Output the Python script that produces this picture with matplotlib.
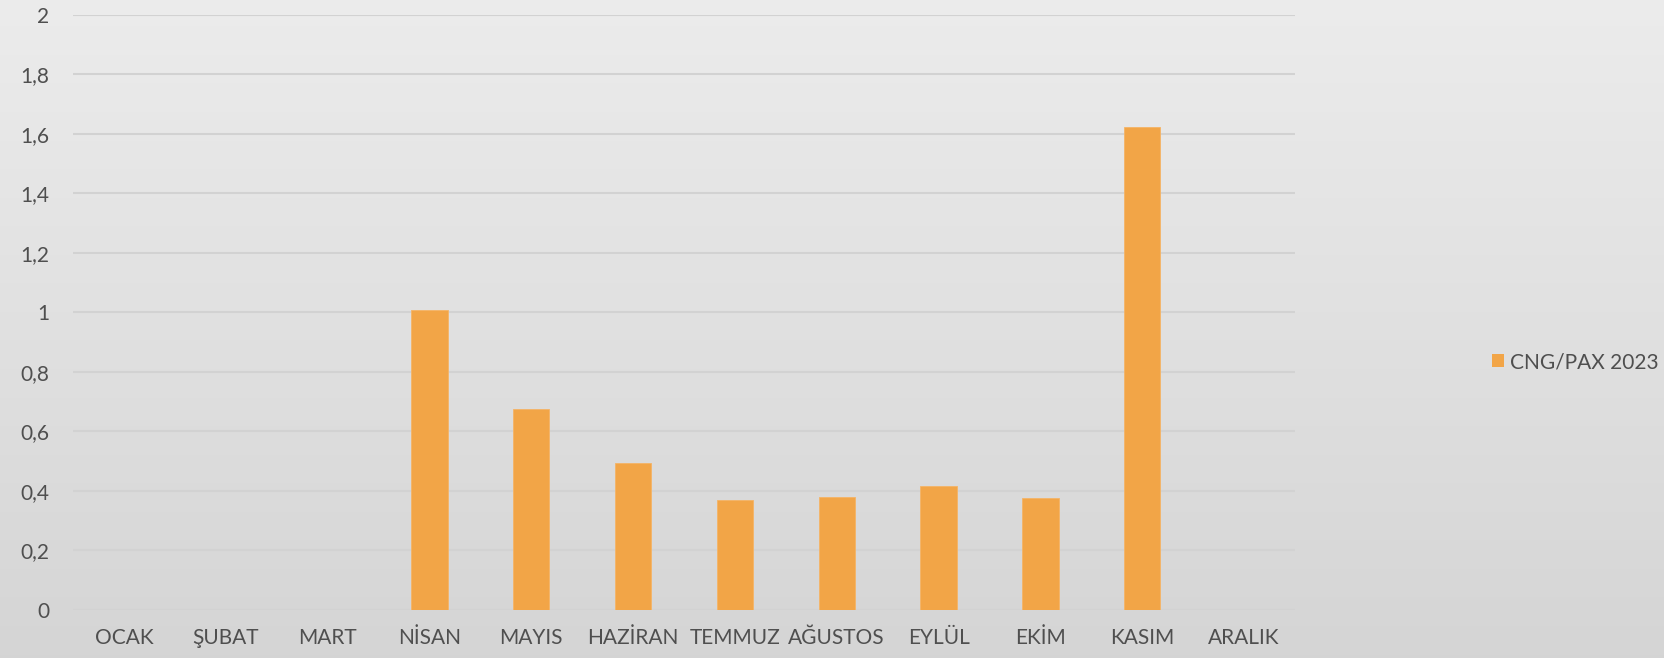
import numpy as np
import matplotlib
matplotlib.use("Agg")
import matplotlib.pyplot as plt
from matplotlib.ticker import FixedLocator, FuncFormatter
from matplotlib.patches import Patch

months = ["OCAK", "ŞUBAT", "MART", "NİSAN", "MAYIS", "HAZİRAN",
          "TEMMUZ", "AĞUSTOS", "EYLÜL", "EKİM", "KASIM", "ARALIK"]
cng_pax_2023 = [0, 0, 0, 1.007, 0.675, 0.494, 0.369, 0.380, 0.4175, 0.376, 1.622, 0]
series_name = "CNG/PAX 2023"
y_ticks = [0, 0.2, 0.4, 0.6, 0.8, 1.0, 1.2, 1.4, 1.6, 1.8, 2.0]

W, H = 1665, 658
fig = plt.figure(figsize=(W / 100, H / 100), dpi=100)

# background gradient
bg = fig.add_axes([0, 0, 1, 1], zorder=-10)
grad = np.linspace(0, 1, 256).reshape(-1, 1)
top = np.array([0.925, 0.925, 0.925])
bot = np.array([0.835, 0.835, 0.835])
img = top[None, None, :] * (1 - grad[..., None]) + bot[None, None, :] * grad[..., None]
bg.imshow(img, aspect="auto", extent=[0, 1, 0, 1])
bg.set_axis_off()

font = "Lato"
tcol = "#4f4f4f"
fsize = 15

x0, x1 = 73, 1295
y0, y1 = 610, 14.6
ax = fig.add_axes([x0 / W, 1 - y0 / H, (x1 - x0) / W, (y0 - y1) / H])
ax.set_facecolor("none")

x = np.arange(len(months))
ax.bar(x, cng_pax_2023, width=0.357, color="#F2A547", edgecolor="#F5B466",
       linewidth=0.6, zorder=3)

ax.set_xlim(-0.5, len(months) - 0.5)
ax.set_ylim(0, 2)
ax.yaxis.set_major_locator(FixedLocator(y_ticks))
ax.yaxis.set_major_formatter(FuncFormatter(lambda v, p: f"{v:g}".replace(".", ",")))
ax.grid(axis="y", color="#d2d2d2", linewidth=1.5, zorder=0)
ax.set_xticks(x)
ax.set_xticklabels(months)
for s in ax.spines.values():
    s.set_visible(False)
ax.tick_params(axis="both", length=0, colors=tcol, labelsize=fsize)
ax.tick_params(axis="y", pad=17)
ax.tick_params(axis="x", pad=13)
for lab in ax.get_xticklabels() + ax.get_yticklabels():
    lab.set_fontfamily(font)
    lab.set_color(tcol)

handle = Patch(facecolor="#F2A547", edgecolor="none")
fig.legend([handle], [series_name], loc="center left",
           bbox_to_anchor=(1477 / W, 1 - 362 / H), frameon=False,
           prop={"family": font, "size": fsize}, labelcolor=tcol,
           handlelength=0.6, handleheight=0.6, handletextpad=0.3,
           borderpad=0.2)

fig.savefig("out.png", dpi=100)
